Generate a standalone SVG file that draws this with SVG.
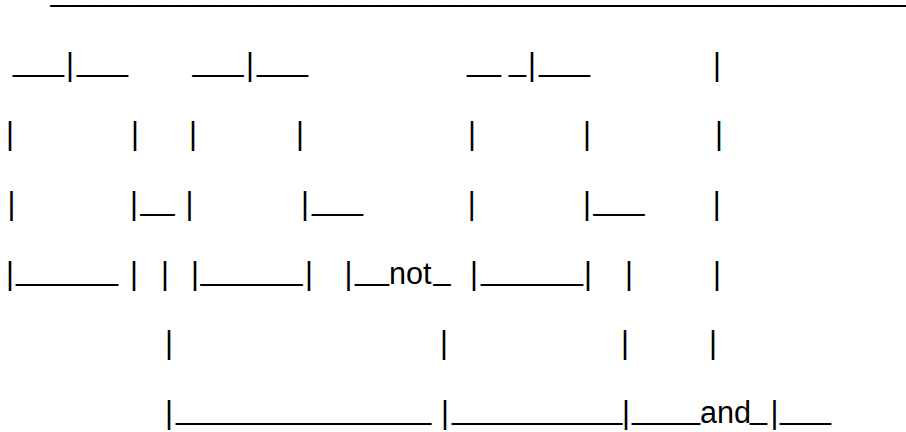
<svg xmlns="http://www.w3.org/2000/svg" width="906" height="432" viewBox="0 0 906 432">
<style>
text { font-family: "Liberation Sans", Arial, sans-serif; font-size: 30.6px; fill: #000; white-space: pre; }
</style>
<rect width="906" height="432" fill="#fff"/>
<g id="row0">
<text x="50.5" y="0.8">____________________________________________________</text>
</g>
<g id="row1">
<text y="70.5"><tspan x="13">___</tspan><tspan x="77">___</tspan><tspan x="192.5">___</tspan><tspan x="257">___</tspan><tspan x="467">__</tspan><tspan x="509">_</tspan><tspan x="539">___</tspan></text>
<text y="74.5"><tspan x="66">|</tspan><tspan x="246">|</tspan><tspan x="528">|</tspan><tspan x="713">|</tspan></text>
</g>
<g id="row2">
<text y="144.2"><tspan x="6">|</tspan><tspan x="131">|</tspan><tspan x="189">|</tspan><tspan x="296">|</tspan><tspan x="468">|</tspan><tspan x="583">|</tspan><tspan x="715">|</tspan></text>
</g>
<g id="row3">
<text y="209.9"><tspan x="140.5">__</tspan><tspan x="312">___</tspan><tspan x="593.6">___</tspan></text>
<text y="213.9"><tspan x="7.5">|</tspan><tspan x="130">|</tspan><tspan x="185.6">|</tspan><tspan x="301">|</tspan><tspan x="467.7">|</tspan><tspan x="583">|</tspan><tspan x="712.8">|</tspan></text>
</g>
<g id="row4">
<text y="279.6"><tspan x="16">______</tspan><tspan x="200.5">______</tspan><tspan x="355">__</tspan><tspan x="433.5">_</tspan><tspan x="481">______</tspan></text>
<text y="283.6"><tspan x="6">|</tspan><tspan x="130">|</tspan><tspan x="161">|</tspan><tspan x="191">|</tspan><tspan x="305">|</tspan><tspan x="344.5">|</tspan><tspan x="389">not</tspan><tspan x="470">|</tspan><tspan x="584">|</tspan><tspan x="625">|</tspan><tspan x="713">|</tspan></text>
</g>
<g id="row5">
<text y="353.3"><tspan x="165">|</tspan><tspan x="440">|</tspan><tspan x="621">|</tspan><tspan x="709">|</tspan></text>
</g>
<g id="row6">
<text y="419"><tspan x="176">_______________</tspan><tspan x="452">__________</tspan><tspan x="632">____</tspan><tspan x="750">_</tspan><tspan x="780">___</tspan></text>
<text y="423"><tspan x="165">|</tspan><tspan x="441">|</tspan><tspan x="622">|</tspan><tspan x="700">and</tspan><tspan x="770.5">|</tspan></text>
</g>
</svg>
